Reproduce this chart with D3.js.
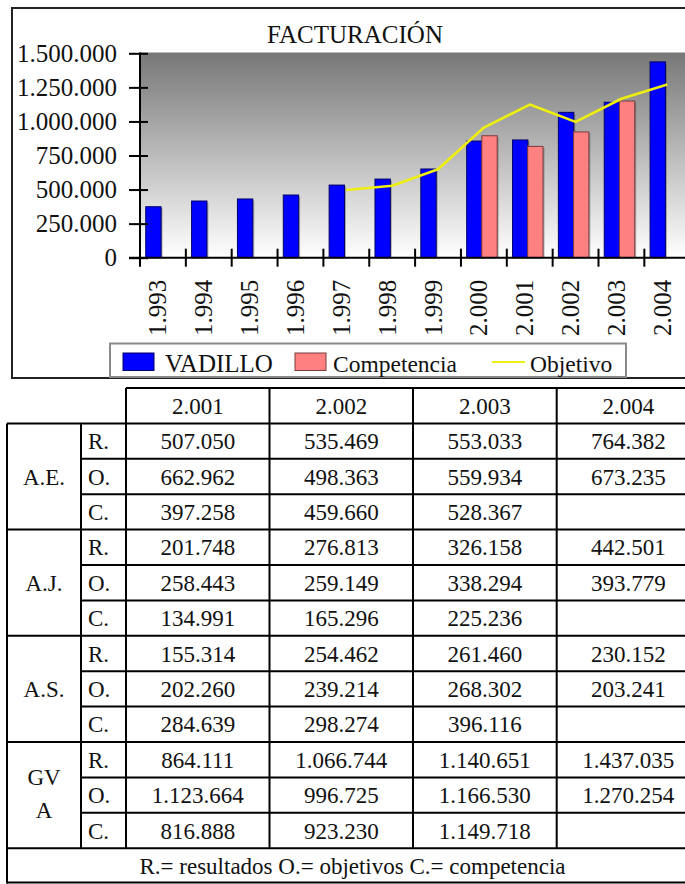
<!DOCTYPE html>
<html>
<head>
<meta charset="utf-8">
<script src="https://cdn.jsdelivr.net/npm/d3@7"></script>
<style>
  html, body { margin: 0; padding: 0; background: #fff; overflow: hidden; }
  svg { display: block; font-family: "Liberation Serif", "Times New Roman", serif; }
</style>
</head>
<body>
<svg id="chart" width="685" height="884"></svg>
<script>
// ---------- DATA ----------
const years = ["1.993","1.994","1.995","1.996","1.997","1.998","1.999","2.000","2.001","2.002","2.003","2.004"];
const vadillo = [374000, 416000, 431000, 460000, 533000, 577000, 651000, 856000, 864111, 1066744, 1140651, 1437035];
const competencia = [null, null, null, null, null, null, null, 895000, 816888, 923230, 1149718, null];
const objetivo = [null, null, null, null, 497000, 528000, 649000, 955000, 1123664, 996725, 1166530, 1270254];
const yTicks = [0, 250000, 500000, 750000, 1000000, 1250000, 1500000];
const seriesNames = ["VADILLO", "Competencia", "Objetivo"];
const chartTitle = "FACTURACIÓN";

const tableYears = ["2.001", "2.002", "2.003", "2.004"];
const groups = ["A.E.", "A.J.", "A.S.", "GVA"];
const rowKeys = ["R.", "O.", "C."];
const aeValues = [["507.050","535.469","553.033","764.382"],["662.962","498.363","559.934","673.235"],["397.258","459.660","528.367",""]];
const ajValues = [["201.748","276.813","326.158","442.501"],["258.443","259.149","338.294","393.779"],["134.991","165.296","225.236",""]];
const asValues = [["155.314","254.462","261.460","230.152"],["202.260","239.214","268.302","203.241"],["284.639","298.274","396.116",""]];
const gvaValues = [["864.111","1.066.744","1.140.651","1.437.035"],["1.123.664","996.725","1.166.530","1.270.254"],["816.888","923.230","1.149.718",""]];
const footerText = "R.= resultados O.= objetivos C.= competencia";

// ---------- CHART ----------
const svg = d3.select("#chart");
const defs = svg.append("defs");
const grad = defs.append("linearGradient").attr("id", "bg").attr("x1", 0).attr("y1", 0).attr("x2", 0).attr("y2", 1);
grad.append("stop").attr("offset", "0%").attr("stop-color", "#777777");
grad.append("stop").attr("offset", "100%").attr("stop-color", "#ffffff");

const plotLeft = 140, plotTop = 52.5, plotBottom = 257.7;
const catW = 45.85;
const x = d3.scaleBand().domain(years).range([plotLeft, plotLeft + catW * years.length]).padding(0);
const y = d3.scaleLinear().domain([0, 1500000]).range([plotBottom, plotTop + 0.8]);

// chart frame
svg.append("rect").attr("x", 12).attr("y", 8).attr("width", 700).attr("height", 370)
  .attr("fill", "#fff").attr("stroke", "#222").attr("stroke-width", 2);

// title
svg.append("text").attr("x", 355).attr("y", 42.5).attr("text-anchor", "middle")
  .attr("font-size", 25).attr("fill", "#111").text(chartTitle);

// plot background
svg.append("rect").attr("x", plotLeft).attr("y", plotTop).attr("width", catW * years.length).attr("height", plotBottom - plotTop)
  .attr("fill", "url(#bg)");

const fmtLocale = d3.formatLocale({ decimal: ",", thousands: ".", grouping: [3], currency: ["", "€"] });
const fmt = fmtLocale.format(",d");

// bars: shadows
const bw = x.bandwidth();
const blueX = d => x(d) + bw * 0.125;
const pinkX = d => x(d) + bw * 0.455;
const barW = bw * 0.335;

const vData = years.map((yr, i) => ({ yr, v: vadillo[i] }));
const cData = years.map((yr, i) => ({ yr, v: competencia[i] })).filter(d => d.v != null);
const oData = years.map((yr, i) => ({ yr, v: objetivo[i] })).filter(d => d.v != null);

svg.append("g").selectAll("rect").data(vData).join("rect")
  .attr("x", d => blueX(d.yr) + 1.5).attr("y", d => y(d.v) + 1.5)
  .attr("width", barW).attr("height", d => plotBottom - y(d.v) - 1.5)
  .attr("fill", "#333").attr("opacity", 0.35);
svg.append("g").selectAll("rect").data(cData).join("rect")
  .attr("x", d => pinkX(d.yr) + 1.5).attr("y", d => y(d.v) + 1.5)
  .attr("width", barW).attr("height", d => plotBottom - y(d.v) - 1.5)
  .attr("fill", "#333").attr("opacity", 0.35);

svg.append("g").selectAll("rect").data(vData).join("rect")
  .attr("x", d => blueX(d.yr)).attr("y", d => y(d.v))
  .attr("width", barW).attr("height", d => plotBottom - y(d.v))
  .attr("fill", "#0000ff").attr("stroke", "#000066").attr("stroke-width", 1);
svg.append("g").selectAll("rect").data(cData).join("rect")
  .attr("x", d => pinkX(d.yr)).attr("y", d => y(d.v))
  .attr("width", barW).attr("height", d => plotBottom - y(d.v))
  .attr("fill", "#ff8080").attr("stroke", "#7a3c3c").attr("stroke-width", 1);

// objetivo line
const line = d3.line().x(d => x(d.yr) + bw / 2).y(d => y(d.v));
svg.append("path").datum(oData).attr("d", line)
  .attr("fill", "none").attr("stroke", "#eeee10").attr("stroke-width", 2.6).attr("stroke-linejoin", "round");

// y axis
const yAxis = svg.append("g").attr("transform", `translate(${plotLeft},0)`)
  .call(d3.axisLeft(y).tickValues(yTicks).tickFormat(fmt).tickSize(11).tickPadding(12));
yAxis.select(".domain").attr("stroke", "#000").attr("stroke-width", 2).attr("d", `M0,${plotTop}V${plotBottom}`);
yAxis.selectAll(".tick line").attr("x1", 8).attr("x2", -11).attr("stroke", "#000").attr("stroke-width", 2);
yAxis.selectAll(".tick text").attr("font-size", 25).attr("font-family", "Liberation Serif, Times New Roman, serif")
  .attr("fill", "#111").attr("dy", "0.33em");

// x axis
const xAxis = svg.append("g").attr("transform", `translate(0,${plotBottom})`)
  .call(d3.axisBottom(x).tickSize(0).tickFormat(d => d));
xAxis.select(".domain").attr("stroke", "#000").attr("stroke-width", 2)
  .attr("d", `M${plotLeft - 11},0H${plotLeft + catW * years.length}`);
xAxis.selectAll(".tick text")
  .attr("font-size", 25).attr("font-family", "Liberation Serif, Times New Roman, serif").attr("fill", "#111")
  .attr("text-anchor", "end")
  .attr("transform", `translate(3.5,22) rotate(-90)`)
  .attr("x", 0).attr("y", 0).attr("dy", 0);
// boundary ticks
svg.append("g").selectAll("line").data(years).join("line")
  .attr("x1", d => x(d)).attr("x2", d => x(d))
  .attr("y1", plotBottom - 9).attr("y2", plotBottom + 9)
  .attr("stroke", "#000").attr("stroke-width", 2);

// legend
const lg = svg.append("g");
lg.append("rect").attr("x", 110).attr("y", 343.5).attr("width", 516).attr("height", 33.5)
  .attr("fill", "#fff").attr("stroke", "#8a8a8a").attr("stroke-width", 2);
lg.append("rect").attr("x", 123).attr("y", 353).attr("width", 31).attr("height", 17.5)
  .attr("fill", "#0000ff").attr("stroke", "#000066").attr("stroke-width", 1);
lg.append("text").attr("x", 165).attr("y", 372).attr("font-size", 25).attr("fill", "#111").text(seriesNames[0]);
lg.append("rect").attr("x", 295).attr("y", 353).attr("width", 31).attr("height", 17.5)
  .attr("fill", "#ff8080").attr("stroke", "#7a3c3c").attr("stroke-width", 1);
lg.append("text").attr("x", 333).attr("y", 372).attr("font-size", 23.5).attr("fill", "#111").text(seriesNames[1]);
lg.append("line").attr("x1", 492).attr("x2", 525).attr("y1", 362).attr("y2", 362)
  .attr("stroke", "#eeee10").attr("stroke-width", 2);
lg.append("text").attr("x", 530).attr("y", 372).attr("font-size", 23.5).attr("fill", "#111").text(seriesNames[2]);

// ---------- TABLE ----------
const colX = [7, 81, 126, 269.5, 413, 556.7, 700];
const tTop = 388, rowH = 35.4;
const rowY = i => tTop + rowH * i;
const allValues = [aeValues, ajValues, asValues, gvaValues];
const tg = svg.append("g").attr("font-size", 23).attr("fill", "#111");
const lineStyle = sel => sel.attr("stroke", "#000").attr("stroke-width", 2);

// header
tg.append("line").attr("x1", colX[2]).attr("x2", colX[6]).attr("y1", rowY(0)).attr("y2", rowY(0)).call(lineStyle);
tg.selectAll("text.hdr").data(tableYears).join("text").attr("class", "hdr")
  .attr("x", (d, i) => (colX[2 + i] + colX[3 + i]) / 2).attr("y", rowY(0) + rowH / 2 + 8)
  .attr("text-anchor", "middle").text(d => d);

// horizontal lines
for (let r = 1; r <= 13; r++) {
  const isGroupLine = (r - 1) % 3 === 0;
  tg.append("line").attr("x1", isGroupLine ? colX[0] : colX[1]).attr("x2", colX[6])
    .attr("y1", rowY(r)).attr("y2", rowY(r)).call(lineStyle);
}
tg.append("line").attr("x1", colX[0]).attr("x2", colX[6]).attr("y1", rowY(14) - 1).attr("y2", rowY(14) - 1).call(lineStyle);
// vertical lines
tg.append("line").attr("x1", colX[0]).attr("x2", colX[0]).attr("y1", rowY(1)).attr("y2", rowY(14)).call(lineStyle);
tg.append("line").attr("x1", colX[1]).attr("x2", colX[1]).attr("y1", rowY(1)).attr("y2", rowY(13)).call(lineStyle);
[2, 3, 4, 5].forEach(c => {
  tg.append("line").attr("x1", colX[c]).attr("x2", colX[c]).attr("y1", rowY(0)).attr("y2", rowY(13)).call(lineStyle);
});

// group labels & values
groups.forEach((g, gi) => {
  const gTop = rowY(1 + gi * 3);
  const cx = (colX[0] + colX[1]) / 2;
  if (g === "GVA") {
    tg.append("text").attr("x", cx).attr("y", gTop + rowH * 1.5 - 10).attr("text-anchor", "middle").text("GV");
    tg.append("text").attr("x", cx).attr("y", gTop + rowH * 1.5 + 23).attr("text-anchor", "middle").text("A");
  } else {
    tg.append("text").attr("x", cx).attr("y", gTop + rowH * 1.5 + 8).attr("text-anchor", "middle").text(g);
  }
  rowKeys.forEach((k, ki) => {
    const ry = gTop + rowH * ki + rowH / 2 + 8;
    tg.append("text").attr("x", 88).attr("y", ry).text(k);
    allValues[gi][ki].forEach((v, ci) => {
      if (!v) return;
      tg.append("text").attr("x", (colX[2 + ci] + colX[3 + ci]) / 2).attr("y", ry)
        .attr("text-anchor", "middle").text(v);
    });
  });
});

// footer
tg.append("text").attr("x", (colX[0] + colX[6]) / 2 - 1).attr("y", rowY(13) + rowH / 2 + 8)
  .attr("text-anchor", "middle").text(footerText);
</script>
</body>
</html>
